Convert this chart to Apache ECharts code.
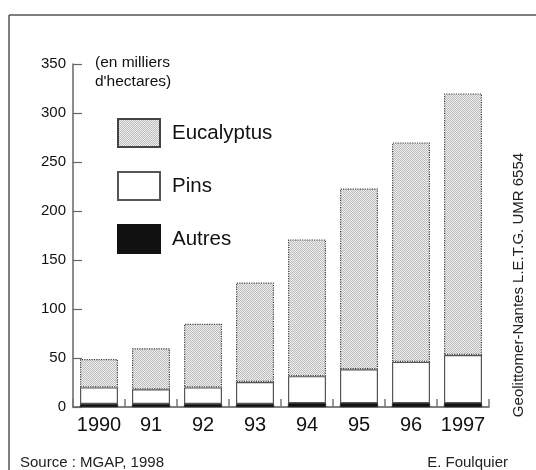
<!DOCTYPE html>
<html>
<head>
<meta charset="utf-8">
<script src="https://cdn.jsdelivr.net/npm/echarts@6/dist/echarts.min.js"></script>
<style>
html,body{margin:0;padding:0;background:#fff;}
#chart{width:536px;height:470px;}
</style>
</head>
<body>
<div id="chart"></div>
<script>
// Data (milliers d'hectares)
var categories = ['1990', '91', '92', '93', '94', '95', '96', '1997'];
var autres = [3, 3, 3, 3, 4, 4, 4, 4];
var pins = [17, 15, 17, 22.5, 27.5, 34.5, 42, 49];
var eucalyptus = [29, 42, 65, 101.5, 139.5, 184.5, 224, 267];
var yTicks = [0, 50, 100, 150, 200, 250, 300, 350];

var FONT = '"Liberation Sans", Arial, sans-serif';

// stipple pattern for Eucalyptus
var pc = document.createElement('canvas');
pc.width = 2; pc.height = 2;
var pctx = pc.getContext('2d');
pctx.fillStyle = '#efefef'; pctx.fillRect(0, 0, 2, 2);
pctx.fillStyle = '#bdbdbd'; pctx.fillRect(0, 0, 1, 1); pctx.fillRect(1, 1, 1, 1);
var pattern = { image: pc, repeat: 'repeat' };

var chart = echarts.init(document.getElementById('chart'), null, { renderer: 'canvas' });
chart.setOption({
  backgroundColor: '#ffffff',
  animation: false,
  textStyle: { fontFamily: FONT },
  grid: { left: 73, right: 47, top: 64, bottom: 63 },
  legend: {
    data: ['Eucalyptus', 'Pins', 'Autres'],
    orient: 'vertical',
    left: 117, top: 118,
    padding: 0,
    itemWidth: 42, itemHeight: 28, itemGap: 23,
    icon: 'rect',
    selectedMode: false,
    textStyle: { fontSize: 20.5, color: '#111', fontFamily: FONT, padding: [0, 0, 0, 7] }
  },
  xAxis: {
    type: 'category',
    data: categories,
    boundaryGap: true,
    axisLine: { lineStyle: { color: '#555', width: 1.5 } },
    axisTick: { show: true, inside: true, length: 8, alignWithLabel: false, lineStyle: { color: '#777', width: 1.5 } },
    axisLabel: { fontSize: 20, color: '#111', margin: 8, fontFamily: FONT, interval: 0 }
  },
  yAxis: {
    type: 'value',
    min: 0, max: 350, interval: 50,
    axisLine: { show: true, lineStyle: { color: '#666', width: 1.5 } },
    axisTick: { show: true, inside: true, length: 9, lineStyle: { color: '#666', width: 1.2 } },
    splitLine: { show: false },
    axisLabel: {
      fontSize: 15, color: '#111', margin: 7, fontFamily: FONT,
      formatter: function (v) { return yTicks.indexOf(v) >= 0 ? String(v) : ''; }
    }
  },
  series: [
    {
      name: 'Autres', type: 'bar', stack: 'total', barWidth: 38,
      data: autres,
      itemStyle: { color: '#111', borderColor: '#111', borderWidth: 0.5 }
    },
    {
      name: 'Pins', type: 'bar', stack: 'total', barWidth: 38,
      data: pins,
      itemStyle: { color: '#ffffff', borderColor: '#555', borderWidth: 1.2 }
    },
    {
      name: 'Eucalyptus', type: 'bar', stack: 'total', barWidth: 38,
      data: eucalyptus,
      itemStyle: { color: pattern, borderColor: '#444', borderWidth: 1.2, borderType: 'dotted' }
    }
  ],
  graphic: [
    { type: 'line', shape: { x1: 9, y1: 15, x2: 536, y2: 15 }, style: { stroke: '#555', lineWidth: 1.5 } },
    { type: 'line', shape: { x1: 9, y1: 15, x2: 9, y2: 470 }, style: { stroke: '#555', lineWidth: 1.5 } },
    { type: 'text', left: 95, top: 53, style: { text: '(en milliers\nd\'hectares)', font: '15.5px ' + FONT, fill: '#111', lineHeight: 19 } },
    { type: 'text', left: 20, top: 455, style: { text: 'Source : MGAP, 1998', font: '15px ' + FONT, fill: '#222' } },
    { type: 'text', right: 28, top: 455, style: { text: 'E. Foulquier', font: '15px ' + FONT, fill: '#222' } },
    { type: 'text', x: 519, y: 285, rotation: Math.PI / 2,
      style: { text: 'Geolittomer-Nantes L.E.T.G. UMR 6554', font: '15px ' + FONT, fill: '#222', align: 'center', verticalAlign: 'middle' } }
  ]
});
</script>
</body>
</html>
